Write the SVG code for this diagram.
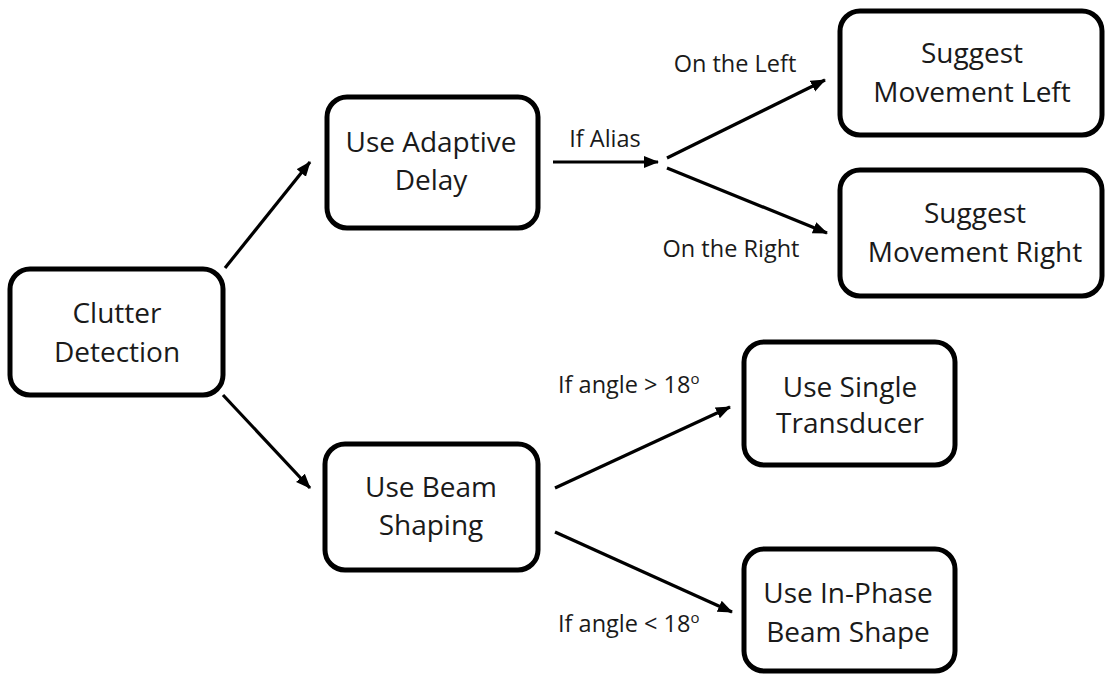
<svg xmlns="http://www.w3.org/2000/svg" width="1107" height="676" viewBox="0 0 1107 676">
<style>
.box{fill:#fff;stroke:#000;stroke-width:5}
.t{font-family:"Open Sans","Liberation Sans",sans-serif;font-size:28px;fill:#1a1a1a;text-anchor:middle}
.l{font-family:"Open Sans","Liberation Sans",sans-serif;font-size:23.5px;fill:#1a1a1a}
.c{stroke:#000;stroke-width:3.2;fill:none;marker-end:url(#ah)}
</style>
<defs>
<marker id="ah" markerUnits="userSpaceOnUse" markerWidth="20" markerHeight="20" refX="14" refY="6" orient="auto">
<path d="M0,0 L15,6 L0,12 Z" fill="#000"/>
</marker>
</defs>
<rect width="1107" height="676" fill="#fff"/>
<g id="connectors">
<line class="c" x1="225" y1="268" x2="310" y2="162"/>
<line class="c" x1="223" y1="395" x2="310" y2="488"/>
<line class="c" x1="553" y1="162" x2="658" y2="162"/>
<line class="c" x1="667" y1="158" x2="825" y2="80"/>
<line class="c" x1="667" y1="168" x2="827" y2="233"/>
<line class="c" x1="555" y1="488" x2="730" y2="407"/>
<line class="c" x1="555" y1="532" x2="732" y2="612"/>
<text class="l" x="605" y="147" text-anchor="middle">If Alias</text>
<text class="l" x="735" y="72" text-anchor="middle">On the Left</text>
<text class="l" x="731" y="257" text-anchor="middle">On the Right</text>
<text class="l" x="558" y="393">If angle &gt; 18<tspan font-size="15" dy="-9">o</tspan></text>
<text class="l" x="558" y="632">If angle &lt; 18<tspan font-size="15" dy="-9">o</tspan></text>
</g>
<g id="clutter">
<rect class="box" x="10" y="269" width="213" height="126" rx="20"/>
<text class="t" x="117" y="323">Clutter</text>
<text class="t" x="117" y="362">Detection</text>
</g>
<g id="adaptive">
<rect class="box" x="327" y="97" width="211" height="131" rx="20"/>
<text class="t" x="431" y="152">Use Adaptive</text>
<text class="t" x="431" y="190">Delay</text>
</g>
<g id="moveLeft">
<rect class="box" x="840" y="11" width="262" height="124" rx="20"/>
<text class="t" x="972" y="63">Suggest</text>
<text class="t" x="972" y="102">Movement Left</text>
</g>
<g id="moveRight">
<rect class="box" x="840" y="170" width="262" height="126" rx="20"/>
<text class="t" x="975" y="223">Suggest</text>
<text class="t" x="975" y="262">Movement Right</text>
</g>
<g id="beam">
<rect class="box" x="325" y="444" width="213" height="126" rx="20"/>
<text class="t" x="431" y="497">Use Beam</text>
<text class="t" x="431" y="535">Shaping</text>
</g>
<g id="single">
<rect class="box" x="744" y="342" width="211" height="123" rx="20"/>
<text class="t" x="850" y="397">Use Single</text>
<text class="t" x="850" y="433">Transducer</text>
</g>
<g id="inphase">
<rect class="box" x="744" y="549" width="211" height="122" rx="20"/>
<text class="t" x="848" y="603">Use In-Phase</text>
<text class="t" x="848" y="642">Beam Shape</text>
</g>
</svg>
